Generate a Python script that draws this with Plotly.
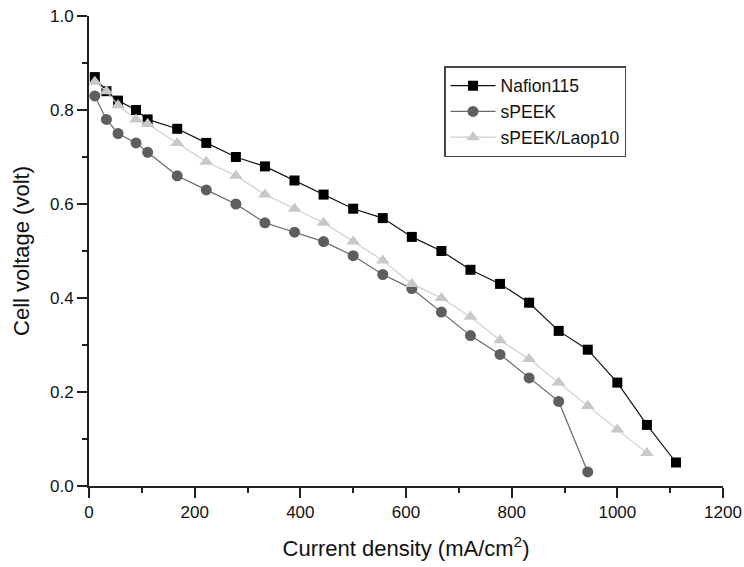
import plotly.graph_objects as go

nafion_x = [11, 33, 55, 89, 111, 167, 222, 278, 333, 389, 444, 500, 556, 611, 667, 722, 778, 833, 889, 944, 1000, 1056, 1111]
nafion_y = [0.87, 0.84, 0.82, 0.80, 0.78, 0.76, 0.73, 0.70, 0.68, 0.65, 0.62, 0.59, 0.57, 0.53, 0.50, 0.46, 0.43, 0.39, 0.33, 0.29, 0.22, 0.13, 0.05]

speek_x = [11, 33, 55, 89, 111, 167, 222, 278, 333, 389, 444, 500, 556, 611, 667, 722, 778, 833, 889, 944]
speek_y = [0.83, 0.78, 0.75, 0.73, 0.71, 0.66, 0.63, 0.60, 0.56, 0.54, 0.52, 0.49, 0.45, 0.42, 0.37, 0.32, 0.28, 0.23, 0.18, 0.03]

laop_x = [11, 33, 55, 89, 111, 167, 222, 278, 333, 389, 444, 500, 556, 611, 667, 722, 778, 833, 889, 944, 1000, 1056]
laop_y = [0.86, 0.84, 0.81, 0.78, 0.77, 0.73, 0.69, 0.66, 0.62, 0.59, 0.56, 0.52, 0.48, 0.43, 0.40, 0.36, 0.31, 0.27, 0.22, 0.17, 0.12, 0.07]

x_ticks = [0, 200, 400, 600, 800, 1000, 1200]
y_ticks = [0.0, 0.2, 0.4, 0.6, 0.8, 1.0]

FONT = "Liberation Sans, Arial, sans-serif"

fig = go.Figure()
fig.add_trace(go.Scatter(x=nafion_x, y=nafion_y, name="Nafion115", mode="lines+markers",
                         line=dict(color="#111111", width=1.2),
                         marker=dict(symbol="square", size=10, color="#000000")))
fig.add_trace(go.Scatter(x=speek_x, y=speek_y, name="sPEEK", mode="lines+markers",
                         line=dict(color="#6a6a6a", width=1.2),
                         marker=dict(symbol="circle", size=11, color="#5e5e5e")))
fig.add_trace(go.Scatter(x=laop_x, y=laop_y, name="sPEEK/Laop10", mode="lines+markers",
                         line=dict(color="#cfcfcf", width=1.2),
                         marker=dict(symbol="triangle-up", size=12, color="#c8c8c8")))

fig.update_layout(
    width=744, height=567,
    margin=dict(l=89, r=21, t=16, b=81),
    plot_bgcolor="white", paper_bgcolor="white",
    font=dict(family=FONT, size=17, color="#111111"),
    showlegend=True,
    legend=dict(x=0.56, y=0.893, xanchor="left", yanchor="top",
                bordercolor="#444444", borderwidth=1.5, bgcolor="white",
                itemwidth=45,
                font=dict(family=FONT, size=17.5, color="#111111")),
    xaxis=dict(range=[0, 1200], tickvals=x_ticks, showgrid=False, zeroline=False,
               automargin=False, ticklabeloverflow="allow",
               showline=True, linecolor="#222222", linewidth=2,
               ticks="outside", ticklen=10, tickwidth=1.5, tickcolor="#222222",
               minor=dict(ticks="outside", ticklen=5, tickwidth=1.5, tickcolor="#222222", dtick=100),
               title=dict(text="Current density (mA/cm<sup>2</sup>)", font=dict(size=22), standoff=19),
               tickfont=dict(size=17)),
    yaxis=dict(range=[0, 1.0], tickvals=y_ticks, tickformat=".1f", showgrid=False, zeroline=False,
               automargin=False, ticklabeloverflow="allow",
               showline=True, linecolor="#222222", linewidth=2,
               ticks="outside", ticklen=10, tickwidth=1.5, tickcolor="#222222",
               minor=dict(ticks="outside", ticklen=5, tickwidth=1.5, tickcolor="#222222", dtick=0.1),
               title=dict(text="Cell voltage (volt)", font=dict(size=22), standoff=14),
               tickfont=dict(size=17)),
)
fig.update_traces(cliponaxis=False)

fig.write_html("out.html", config={"displayModeBar": False},
               post_script="document.body.style.margin='0px';")
